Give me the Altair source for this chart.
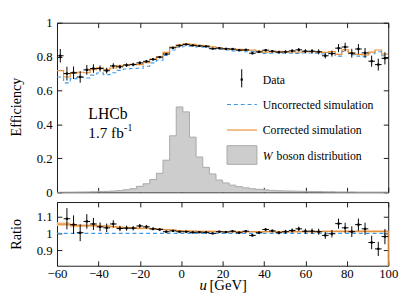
import altair as alt
import pandas as pd

# ---------------- data ----------------
bin_lo = [round(-60.0 + 3.2 * i, 1) for i in range(50)]
bin_hi = [round(v + 3.2, 1) for v in bin_lo]
bin_mid = [round(v + 1.6, 1) for v in bin_lo]

eff_data = [0.805, 0.700, 0.705, 0.680, 0.722, 0.730, 0.730, 0.717, 0.745, 0.740,
            0.750, 0.753, 0.763, 0.772, 0.784, 0.797, 0.815, 0.852, 0.865, 0.872,
            0.866, 0.863, 0.860, 0.847, 0.850, 0.846, 0.845, 0.838, 0.840, 0.820,
            0.828, 0.838, 0.832, 0.826, 0.828, 0.834, 0.840, 0.832, 0.832, 0.828,
            0.805, 0.818, 0.850, 0.857, 0.820, 0.845, 0.822, 0.773, 0.753, 0.790]
eff_err = [0.040, 0.041, 0.037, 0.034, 0.029, 0.025, 0.018, 0.017, 0.016, 0.012,
           0.011, 0.010, 0.009, 0.008, 0.007, 0.006, 0.006, 0.005, 0.004, 0.004,
           0.004, 0.004, 0.004, 0.004, 0.005, 0.005, 0.005, 0.006, 0.006, 0.007,
           0.007, 0.007, 0.007, 0.008, 0.009, 0.010, 0.011, 0.012, 0.013, 0.015,
           0.016, 0.018, 0.024, 0.025, 0.026, 0.029, 0.029, 0.033, 0.035, 0.036]
eff_uncorr = [0.680, 0.645, 0.670, 0.677, 0.674, 0.691, 0.703, 0.694, 0.705, 0.719,
              0.727, 0.730, 0.731, 0.743, 0.763, 0.779, 0.807, 0.839, 0.856, 0.863,
              0.861, 0.857, 0.855, 0.847, 0.842, 0.839, 0.834, 0.835, 0.829, 0.830,
              0.825, 0.819, 0.820, 0.823, 0.820, 0.820, 0.818, 0.821, 0.821, 0.820,
              0.815, 0.820, 0.803, 0.830, 0.812, 0.803, 0.800, 0.817, 0.829, 0.805]
eff_corr = [0.717, 0.680, 0.701, 0.708, 0.705, 0.723, 0.734, 0.725, 0.733, 0.745,
            0.751, 0.754, 0.753, 0.765, 0.784, 0.798, 0.825, 0.856, 0.870, 0.875,
            0.872, 0.867, 0.865, 0.857, 0.851, 0.847, 0.842, 0.843, 0.837, 0.838,
            0.833, 0.827, 0.828, 0.831, 0.828, 0.828, 0.826, 0.830, 0.830, 0.829,
            0.825, 0.830, 0.813, 0.840, 0.822, 0.813, 0.810, 0.827, 0.839, 0.815]
w_dist = [0.0003, 0.0005, 0.001, 0.0015, 0.002, 0.003, 0.004, 0.005, 0.007, 0.010,
          0.015, 0.021, 0.035, 0.050, 0.075, 0.112, 0.189, 0.333, 0.503, 0.474,
          0.325, 0.208, 0.147, 0.108, 0.072, 0.055, 0.042, 0.033, 0.026, 0.021,
          0.017, 0.014, 0.011, 0.009, 0.008, 0.007, 0.006, 0.005, 0.004, 0.004,
          0.003, 0.003, 0.002, 0.002, 0.002, 0.001, 0.001, 0.001, 0.001, 0.001]
ratio_data = [None, 1.087, 1.052, 1.004, 1.071, 1.056, 1.039, 1.033, 1.056, 1.029,
              1.031, 1.031, 1.044, 1.039, 1.027, 1.023, 1.010, 1.015, 1.010, 1.010,
              1.006, 1.007, 1.006, 1.000, 1.010, 1.008, 1.013, 1.004, 1.013, 0.988,
              1.004, 1.023, 1.015, 1.004, 1.010, 1.017, 1.027, 1.013, 1.013, 1.010,
              0.988, 0.998, 1.058, 1.033, 1.010, 1.052, 1.027, 0.946, 0.908, 0.981]
ratio_err = [0.060, 0.063, 0.055, 0.050, 0.043, 0.036, 0.026, 0.025, 0.022, 0.016,
             0.015, 0.013, 0.012, 0.011, 0.009, 0.008, 0.007, 0.006, 0.005, 0.005,
             0.005, 0.005, 0.005, 0.005, 0.006, 0.006, 0.006, 0.007, 0.007, 0.008,
             0.008, 0.009, 0.009, 0.010, 0.011, 0.012, 0.013, 0.015, 0.016, 0.018,
             0.020, 0.022, 0.030, 0.030, 0.032, 0.036, 0.036, 0.040, 0.042, 0.045]
ratio_corr = [1.055, 1.055, 1.046, 1.046, 1.046, 1.046, 1.044, 1.044, 1.040, 1.036,
              1.033, 1.033, 1.030, 1.030, 1.027, 1.025, 1.022, 1.020, 1.016, 1.014,
              1.013, 1.012, 1.012, 1.012, 1.011, 1.010, 1.010, 1.010, 1.010, 1.010,
              1.010, 1.010, 1.010, 1.010, 1.010, 1.010, 1.010, 1.011, 1.011, 1.011,
              1.012, 1.012, 1.012, 1.012, 1.012, 1.012, 1.012, 1.012, 1.012, 1.012]
ratio_band = [0.011, 0.011, 0.009, 0.009, 0.008, 0.008, 0.007, 0.007, 0.006, 0.006,
              0.006, 0.005, 0.005, 0.005, 0.005, 0.005, 0.004, 0.004, 0.004, 0.004,
              0.004, 0.004, 0.004, 0.004, 0.004, 0.004, 0.004, 0.004, 0.004, 0.004,
              0.004, 0.004, 0.004, 0.004, 0.005, 0.005, 0.005, 0.005, 0.005, 0.005,
              0.005, 0.005, 0.006, 0.006, 0.006, 0.006, 0.006, 0.006, 0.006, 0.006]

x_ticks = [-60, -40, -20, 0, 20, 40, 60, 80, 100]
eff_ticks = [0, 0.2, 0.4, 0.6, 0.8, 1]
ratio_ticks = [0.9, 1, 1.1]

# ---------------- tables ----------------
bins = pd.DataFrame({"lo": bin_lo, "hi": bin_hi, "mid": bin_mid,
                     "eff": eff_data, "err": eff_err,
                     "r": ratio_data, "rerr": ratio_err})
bins["elo"] = bins["eff"] - bins["err"]
bins["ehi"] = bins["eff"] + bins["err"]
rb = bins.dropna(subset=["r"]).copy()
rb["rlo"] = rb["r"] - rb["rerr"]
rb["rhi"] = rb["r"] + rb["rerr"]

edges = bin_lo + [bin_hi[-1]]
step = pd.DataFrame({
    "x": edges,
    "unc": eff_uncorr + eff_uncorr[-1:],
    "cor": eff_corr + eff_corr[-1:],
    "w": w_dist + w_dist[-1:],
    "rc": ratio_corr + ratio_corr[-1:],
    "band": ratio_band + ratio_band[-1:],
})
step["zero"] = 0.0
step["rlo"] = step["rc"] - step["band"]
step["rhi"] = step["rc"] + step["band"]
one = pd.DataFrame({"k": [0]})

FONT = "Liberation Serif"
BLUE = "#3f9ae6"
ORANGE = "#e8913a"
BAND = "#f6cfa6"
INK = "#1a1a1a"

W = 338
H_TOP = 173
H_RAT = 65

xscale = alt.Scale(domain=[-60, 100], nice=False, zero=False)
yscale = alt.Scale(domain=[0, 1], nice=False)
rscale = alt.Scale(domain=[0.808, 1.186], nice=False, zero=False)

MINUS_EXPR = "datum.value < 0 ? '\u2212' + format(-datum.value, 'd') : format(datum.value, 'd')"


def axis(orient, values, labels, is_x=False, pad=5):
    kw = dict(orient=orient, values=values, labels=labels, title=None,
              domain=False, grid=False, ticks=True, tickSize=5, offset=-5,
              tickColor=INK, tickWidth=1, labelFont=FONT, labelFontSize=13,
              labelColor="black", labelPadding=pad, labelFlush=False,
              labelOverlap=False)
    if is_x:
        kw["labelExpr"] = MINUS_EXPR
    else:
        kw["format"] = "~g"
    return alt.Axis(**kw)


def text(s, x, y, size=12, align="left", baseline="middle", style="normal", angle=0):
    return alt.Chart(one).mark_text(
        font=FONT, fontSize=size, align=align, baseline=baseline,
        fontStyle=style, color="black", angle=angle
    ).encode(x=alt.value(x), y=alt.value(y), text=alt.value(s))


def frame(x1, x2, y1, y2):
    # transparent box that fixes the chart's outer extent
    return alt.Chart(one).mark_rect(opacity=0).encode(
        x=alt.value(x1), x2=alt.value(x2), y=alt.value(y1), y2=alt.value(y2))


# ---------------- top panel ----------------
hist_area = alt.Chart(step).mark_area(interpolate="step-after", color="#cdcdcd").encode(
    x=alt.X("x:Q", scale=xscale, axis=axis("bottom", x_ticks, False, True)),
    y=alt.Y("w:Q", scale=yscale, axis=axis("left", eff_ticks, True)),
    y2="zero:Q",
)
hist_line = alt.Chart(step).mark_line(interpolate="step-after", color="#a8a8a8", strokeWidth=1).encode(
    x=alt.X("x:Q", scale=xscale, axis=None), y=alt.Y("w:Q", scale=yscale, axis=None))
unc_line = alt.Chart(step).mark_line(interpolate="step-after", color=BLUE, strokeWidth=1.1,
                                     strokeDash=[4, 3]).encode(
    x=alt.X("x:Q", scale=xscale, axis=None), y=alt.Y("unc:Q", scale=yscale, axis=None))
cor_line = alt.Chart(step).mark_line(interpolate="step-after", color=ORANGE, strokeWidth=1.2).encode(
    x=alt.X("x:Q", scale=xscale, axis=axis("top", x_ticks, False, True)),
    y=alt.Y("cor:Q", scale=yscale, axis=axis("right", eff_ticks, False)))
d_h = alt.Chart(bins).mark_rule(color="black", strokeWidth=1).encode(
    x=alt.X("lo:Q", scale=xscale, axis=None), x2="hi:Q",
    y=alt.Y("eff:Q", scale=yscale, axis=None))
d_v = alt.Chart(bins).mark_rule(color="black", strokeWidth=1).encode(
    x=alt.X("mid:Q", scale=xscale, axis=None),
    y=alt.Y("elo:Q", scale=yscale, axis=None), y2="ehi:Q")
d_p = alt.Chart(bins).mark_square(color="black", size=5, opacity=1).encode(
    x=alt.X("mid:Q", scale=xscale, axis=None), y=alt.Y("eff:Q", scale=yscale, axis=None))

leg_data_v = alt.Chart(one).mark_rule(color="black", strokeWidth=1).encode(
    x=alt.value(188.5), y=alt.value(47.5), y2=alt.value(66))
leg_data_p = alt.Chart(one).mark_square(color="black", size=5, opacity=1).encode(
    x=alt.value(188.5), y=alt.value(58))
leg_unc = alt.Chart(one).mark_rule(color=BLUE, strokeWidth=1.1, strokeDash=[4, 3]).encode(
    x=alt.value(173.5), x2=alt.value(204), y=alt.value(83.5))
leg_cor = alt.Chart(one).mark_rule(color=ORANGE, strokeWidth=1.2).encode(
    x=alt.value(173.5), x2=alt.value(204), y=alt.value(109.5))
leg_w = alt.Chart(one).mark_rect(color="#cdcdcd", stroke="#a8a8a8", strokeWidth=1).encode(
    x=alt.value(173.5), x2=alt.value(204), y=alt.value(125.5), y2=alt.value(144.5))

top = alt.layer(
    frame(-48, W + 10, -11, H_TOP),
    hist_area, hist_line, unc_line, cor_line, d_h, d_v, d_p,
    leg_data_v, leg_data_p, leg_unc, leg_cor, leg_w,
    text("Data", 210, 58.5),
    text("Uncorrected simulation", 210, 84),
    text("Corrected simulation", 210, 110),
    text("W", 210, 136, style="italic"),
    text("boson distribution", 224, 136),
    text("LHCb", 32, 98, size=16, baseline="alphabetic"),
    text("1.7 fb", 32, 117.5, size=15.5, baseline="alphabetic"),
    text("-1", 68.5, 111, size=10, baseline="alphabetic"),
    text("Efficiency", -41, 86, size=14.5, align="center", angle=270),
).resolve_axis(x="independent", y="independent").properties(width=W, height=H_TOP)

# ---------------- ratio panel ----------------
band = alt.Chart(step).mark_area(interpolate="step-after", color=BAND, opacity=1).encode(
    x=alt.X("x:Q", scale=xscale, axis=axis("bottom", x_ticks, True, True, pad=2)),
    y=alt.Y("rlo:Q", scale=rscale, axis=axis("left", ratio_ticks, True)),
    y2="rhi:Q",
)
unity = alt.Chart(one).mark_rule(color=BLUE, strokeWidth=1.1, strokeDash=[4, 3]).encode(
    x=alt.X(datum=-60, scale=xscale, axis=None), x2=alt.datum(100),
    y=alt.Y(datum=1, scale=rscale, axis=None))
rc_line = alt.Chart(step).mark_line(interpolate="step-after", color=ORANGE, strokeWidth=1.2).encode(
    x=alt.X("x:Q", scale=xscale, axis=axis("top", x_ticks, False, True)),
    y=alt.Y("rc:Q", scale=rscale, axis=axis("right", ratio_ticks, False)))
rc_drop = alt.Chart(one).mark_rule(color=ORANGE, strokeWidth=1.2).encode(
    x=alt.X(datum=100, scale=xscale, axis=None),
    y=alt.Y(datum=ratio_corr[-1], scale=rscale, axis=None), y2=alt.datum(0.808))
r_h = alt.Chart(rb).mark_rule(color="black", strokeWidth=1).encode(
    x=alt.X("lo:Q", scale=xscale, axis=None), x2="hi:Q",
    y=alt.Y("r:Q", scale=rscale, axis=None))
r_v = alt.Chart(rb).mark_rule(color="black", strokeWidth=1).encode(
    x=alt.X("mid:Q", scale=xscale, axis=None),
    y=alt.Y("rlo:Q", scale=rscale, axis=None), y2="rhi:Q")
r_p = alt.Chart(rb).mark_square(color="black", size=5, opacity=1).encode(
    x=alt.X("mid:Q", scale=xscale, axis=None), y=alt.Y("r:Q", scale=rscale, axis=None))

bottom = alt.layer(
    frame(-48, W + 10, 0, H_RAT + 34),
    band, unity, rc_line, rc_drop, r_h, r_v, r_p,
    text("Ratio", -41, 33, size=14.5, align="center", angle=270),
    text("u", 153, 90, size=15, align="right", baseline="alphabetic", style="italic"),
    text("[GeV]", 155.5, 90, size=15, baseline="alphabetic"),
).resolve_axis(x="independent", y="independent").properties(width=W, height=H_RAT)

chart = alt.vconcat(top, bottom, spacing=10, bounds="flush").properties(
    padding=0,
).configure(font=FONT).configure_view(stroke=INK, strokeWidth=1)

chart.save("out.html", embed_options={"renderer": "svg", "actions": False})
